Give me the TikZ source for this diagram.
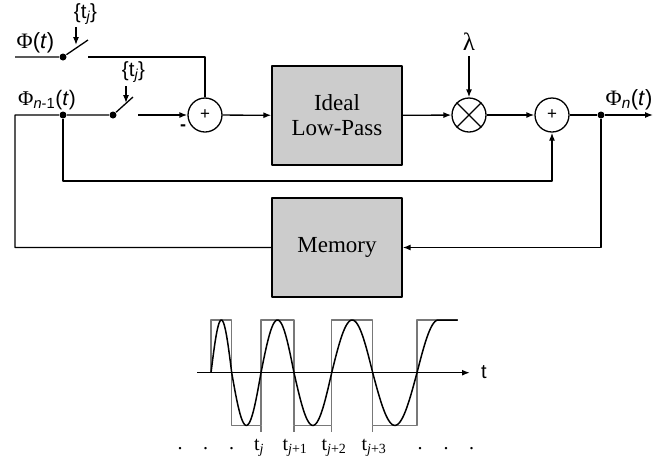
\documentclass[tikz,border=0pt]{standalone}
\usepackage{fontspec}
\setmainfont{Liberation Serif}
\setsansfont{Liberation Sans}
\usetikzlibrary{arrows.meta}
\definecolor{boxgray}{RGB}{204,204,204}
\definecolor{wavegray}{RGB}{120,120,120}
\tikzset{
 blk/.style={draw,fill=boxgray,minimum width=130pt,minimum height=99pt,align=center,inner sep=0pt,font=\fontsize{23}{25}\selectfont},
 sumc/.style={draw,circle,minimum size=34pt,inner sep=0pt,font=\sffamily\fontsize{17}{17}\selectfont},
 jdot/.style={circle,fill,inner sep=0pt,minimum size=7pt},
 lab/.style={inner sep=0pt,font=\fontsize{22}{22}\selectfont},
 tjlab/.style={inner sep=0pt,font=\sffamily\fontsize{20.5}{21}\selectfont},
 tlab/.style={inner sep=0pt,anchor=base,font=\fontsize{20}{22}\selectfont},
 sq/.style={wavegray,line width=1.1pt},
 sine/.style={black,line width=1.5pt},
 >={Latex[length=8pt,width=6pt]}
}
\begin{document}
\begin{tikzpicture}[x=1pt,y=-1pt,line width=1.3pt,line join=round]
\useasboundingbox (0,0) rectangle (667,459);
% blocks
\node[sumc] (sum1) at (205,115) {+};
\node[blk] (lpf) at (337,115.5) {Ideal\\Low-Pass};
\node[sumc] (mult) at (469,115) {};
\draw (mult.north west) -- (mult.south east) (mult.north east) -- (mult.south west);
\node[sumc] (sum2) at (552,115) {+};
\node[blk] (mem) at (337,247.5) {Memory};
% labels
\node[lab] (phi) at (35.5,43) {Φ\sffamily(\textit{t})};
\node[lab,font=\fontsize{21}{22}\selectfont] (phin1) at (47,100) {Φ\textsubscript{\sffamily\itshape n\upshape -1}\sffamily(\textit{t})};
\node[lab] (phin) at (629,99.5) {Φ\textsubscript{\sffamily\itshape n}\sffamily(\textit{t})};
\node[tjlab] (tj1) at (85.5,14) {\{t\textsubscript{\itshape j}\}};
\node[tjlab] (tj2) at (133.5,72) {\{t\textsubscript{\itshape j}\}};
\node[lab,font=\fontsize{25}{25}\selectfont] (lam) at (469,42) {λ};
\node[inner sep=0pt,font=\sffamily\bfseries\fontsize{18}{18}\selectfont] (minus) at (183,128) {-};
% points
\coordinate (in1) at (15,57);
\node[jdot] (d1) at (63,57) {};
\coordinate (sw1) at (88,40);
\coordinate (r1) at (88,57);
\coordinate (bend) at (205,57);
\coordinate (a1) at (76,27);
\coordinate (a1e) at (76,45);
\coordinate (in2) at (15,115);
\node[jdot] (d2) at (63,115) {};
\node[jdot] (s2) at (113,115) {};
\coordinate (sw2) at (133,97);
\coordinate (r2) at (138,115);
\coordinate (a2) at (126,86);
\coordinate (a2e) at (126,103);
\coordinate (fb) at (63,181);
\node[jdot] (d3) at (601,115) {};
\coordinate (out) at (653,115);
\coordinate (la) at (469,56);
% connectors
\draw (in1) -- (d1) -- (sw1);
\draw (r1) -- (bend) -- (sum1.north);
\draw[->] (a1) -- (a1e);
\draw (mem.west) -| (in2) -- (d2) -- (s2) -- (sw2);
\draw[->] (a2) -- (a2e);
\draw[->] (r2) -- (sum1.west);
\draw[->] (sum1) -- (lpf);
\draw[->] (lpf) -- (mult);
\draw[->] (la) -- (mult.north);
\draw[->] (mult) -- (sum2);
\draw (sum2) -- (d3);
\draw[->] (d3) -- (out);
\draw[->] (d2) -- (fb) -| (sum2.south);
\draw[->] (d3) |- (mem.east);
% waveform
\draw[sq] (211,372.7) -- (211,320) -- (231.7,320) -- (231.7,425.7) -- (261,425.7) -- (261,320)
 -- (294,320) -- (294,425.7) -- (331.7,425.7) -- (331.7,320) -- (372.7,320) -- (372.7,425.7)
 -- (417,425.7) -- (417,320) -- (457.7,320);
\foreach \x in {261,294,331.7,372.7}
 \draw[sq] (\x,425.7) -- (\x,432);
\coordinate (ax0) at (197,372.7);
\coordinate (ax1) at (470,372.7);
\draw[->,line width=1.5pt] (ax0) -- (ax1);
\node[inner sep=0pt,font=\sffamily\fontsize{20}{20}\selectfont] (tax) at (484,372) {t};
\foreach \a/\b/\s in {211/231.7/1,231.7/261/-1,261/294/1,294/331.7/-1,331.7/372.7/1,372.7/417/-1}
 \draw[sine] plot[domain=0:180,samples=40,smooth] ({\a+(\b-\a)*\x/180},{372.7-\s*52.7*sin(\x)});
\draw[sine] plot[domain=0:90,samples=25,smooth] ({417+21.3*\x/90},{372.7-52.7*sin(\x)}) -- (457.7,320);
% time labels
\node[tlab] (t0) at (259,450) {t\textsubscript{\itshape j}};
\node[tlab] (t1) at (295,450) {t\textsubscript{\itshape j\upshape +1}};
\node[tlab] (t2) at (334,450) {t\textsubscript{\itshape j\upshape +2}};
\node[tlab] (t3) at (374,450) {t\textsubscript{\itshape j\upshape +3}};
\foreach \x [count=\i] in {180,205.7,231.7,420,446,471.7}
 \node[tlab] (dt\i) at (\x,449) {.};
\end{tikzpicture}
\end{document}
